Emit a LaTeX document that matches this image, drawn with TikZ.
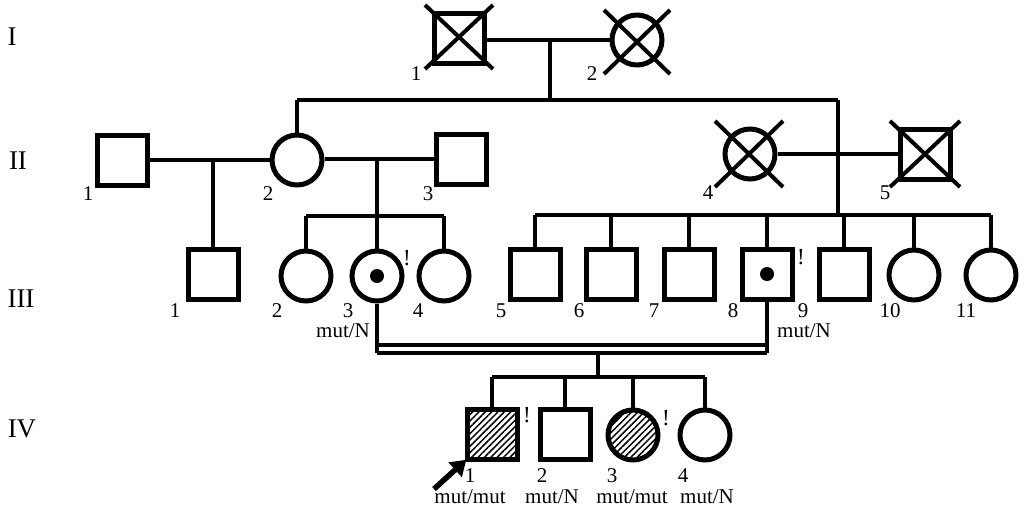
\documentclass[tikz,border=0pt]{standalone}
\usepackage{fontspec}
\setmainfont{Liberation Serif}
\usetikzlibrary{patterns.meta,arrows.meta}
\newcommand{\nodepth}[1]{\raisebox{0pt}[\height][0pt]{#1}}
\begin{document}
\begin{tikzpicture}[x=1pt,y=-1pt,
  male/.style={draw,rectangle,line width=5pt,minimum size=50pt,inner sep=0pt},
  female/.style={draw,circle,line width=5pt,minimum size=50pt,inner sep=0pt},
  lnk/.style={line width=4pt},
  crossln/.style={line width=4pt},
  num/.style={font=\fontsize{21}{21}\selectfont,inner sep=0pt,anchor=base},
  geno/.style={font=\fontsize{21}{21}\selectfont,inner sep=0pt,anchor=base},
  gen/.style={font=\fontsize{27}{27}\selectfont,inner sep=0pt,anchor=base},
  excl/.style={font=\fontsize{23}{23}\selectfont,inner sep=0pt},
  hatch/.style={pattern={Lines[angle=45,distance=4.5pt,line width=1.5pt]}},
  carrier/.style={fill,circle,minimum size=14pt,inner sep=0pt}]
\useasboundingbox (0,0) rectangle (1026,509);

% generation labels
\node[gen] (gI) at (12,45) {I};
\node[gen] (gII) at (18,169) {II};
\node[gen] (gIII) at (21,307) {III};
\node[gen] (gIV) at (22,437) {IV};

% Generation I
\node[male] (I1) at (459,38) {};
\node[female] (I2) at (637,40) {};
\draw[crossln] (425,5) -- (493,69) (425,69) -- (493,5);
\draw[crossln] (604,10) -- (670,74) (604,74) -- (670,10);
\draw[lnk] (I1.east |- I2.west) -- (I2.west);
\coordinate (mI) at (550,40);
\coordinate (sI) at (550,100);
\coordinate (sIl) at (297,100);
\coordinate (sIr) at (838,100);
\draw[lnk] (mI) -- (sI);
\draw[lnk] (sIl) -- (sIr);
\node[num] (nI1) at (416,80) {1};
\node[num] (nI2) at (592,80) {2};

% Generation II
\node[male] (II1) at (122,160) {};
\node[female] (II2) at (297,160) {};
\node[male] (II3) at (461,159) {};
\node[female] (II4) at (750,154) {};
\node[male] (II5) at (925,154) {};
\draw[crossln] (715,121) -- (783,187) (715,187) -- (783,121);
\draw[crossln] (890,121) -- (960,187) (890,187) -- (960,121);
\draw[lnk] (sIl) -- (II2.north);
\draw[lnk] (II1.east) -- (II2.west);
\draw[lnk] (II2.east |- II3.west) -- (II3.west);
\draw[lnk] (II4.east) -- (II5.west);
\coordinate (mII1) at (213,160);
\coordinate (mII2) at (377,159);
\coordinate (sIIIr) at (838,215);
\draw[lnk] (sIr) -- (sIIIr);
\node[num] (nII1) at (88,200) {1};
\node[num] (nII2) at (268,200) {2};
\node[num] (nII3) at (428,200) {3};
\node[num] (nII4) at (708,199) {4};
\node[num] (nII5) at (885,199) {5};

% Generation III
\node[male] (III1) at (213,274) {};
\node[female] (III2) at (306,276) {};
\node[female] (III3) at (377,276) {};
\node[female] (III4) at (444,276) {};
\node[carrier] (d3) at (377,276) {};
\node[male] (III5) at (535,274) {};
\node[male] (III6) at (611,274) {};
\node[male] (III7) at (689,274) {};
\node[male] (III8) at (767,274) {};
\node[carrier] (d8) at (767,274) {};
\node[male] (III9) at (844,274) {};
\node[female] (III10) at (914,275) {};
\node[female] (III11) at (991,275) {};
\draw[lnk] (mII1) -- (III1.north);
\coordinate (sIIIl) at (377,216);
\draw[lnk] (mII2) -- (sIIIl);
\draw[lnk] (III2.north |- sIIIl) -- (III4.north |- sIIIl);
\foreach \n in {III2,III3,III4} \draw[lnk] (\n.north |- sIIIl) -- (\n.north);
\draw[lnk] (III5.north |- sIIIr) -- (III11.north |- sIIIr);
\foreach \n in {III5,III6,III7,III8,III9,III10,III11} \draw[lnk] (\n.north |- sIIIr) -- (\n.north);
\node[excl] (e3) at (407,258) {!};
\node[excl] (e8) at (801,257) {!};
\node[num] (nIII1) at (175,317) {1};
\node[num] (nIII2) at (277,317) {2};
\node[num] (nIII3) at (348,317) {3};
\node[num] (nIII4) at (418,317) {4};
\node[num] (nIII5) at (501,317) {5};
\node[num] (nIII6) at (579,317) {6};
\node[num] (nIII7) at (654,317) {7};
\node[num] (nIII8) at (733,317) {8};
\node[num] (nIII9) at (803,317) {9};
\node[num] (nIII10) at (890,317) {10};
\node[num] (nIII11) at (966,317) {11};
\node[geno] (gIII3) at (343,337) {mut/N};
\node[geno] (gIII9) at (804,337) {mut/N};

% consanguineous double line
\coordinate (cl) at (377,345);
\coordinate (cr) at (767,345);
\coordinate (cl2) at (377,353);
\coordinate (cr2) at (767,353);
\draw[lnk,line width=3.4pt] (III3.south) -- (cl2);
\draw[lnk,line width=3.4pt] (III8.south) -- (cr2);
\draw[lnk,line width=3.4pt] (cl) -- (cr);
\draw[lnk,line width=3.4pt] (cl2) -- (cr2);
\coordinate (mIV) at (598,353);
\coordinate (sIV) at (598,377);
\draw[lnk] (mIV) -- (sIV);

% Generation IV
\node[male,hatch] (IV1) at (492,434) {};
\node[male] (IV2) at (565,434) {};
\node[female,hatch] (IV3) at (633,435) {};
\node[female] (IV4) at (705,435) {};
\draw[lnk] (IV1.north |- sIV) -- (IV4.north |- sIV);
\foreach \n in {IV1,IV2,IV3,IV4} \draw[lnk] (\n.north |- sIV) -- (\n.north);
\node[excl] (e41) at (527,415) {!};
\node[excl] (e43) at (666,418) {!};
\node[num] (nIV1) at (470,482) {\nodepth{1}};
\node[num] (nIV2) at (542,482) {\nodepth{2}};
\node[num] (nIV3) at (612,482) {\nodepth{3}};
\node[num] (nIV4) at (683,482) {\nodepth{4}};
\node[geno] (gIV1) at (470,503) {mut/mut};
\node[geno] (gIV2) at (552,503) {mut/N};
\node[geno] (gIV3) at (632,503) {mut/mut};
\node[geno] (gIV4) at (707,503) {mut/N};
\coordinate (arr) at (434,489);
\draw[line width=5.5pt,-{Triangle[length=15pt,width=19pt]}] (arr) -- (IV1.south west);
\end{tikzpicture}
\end{document}
